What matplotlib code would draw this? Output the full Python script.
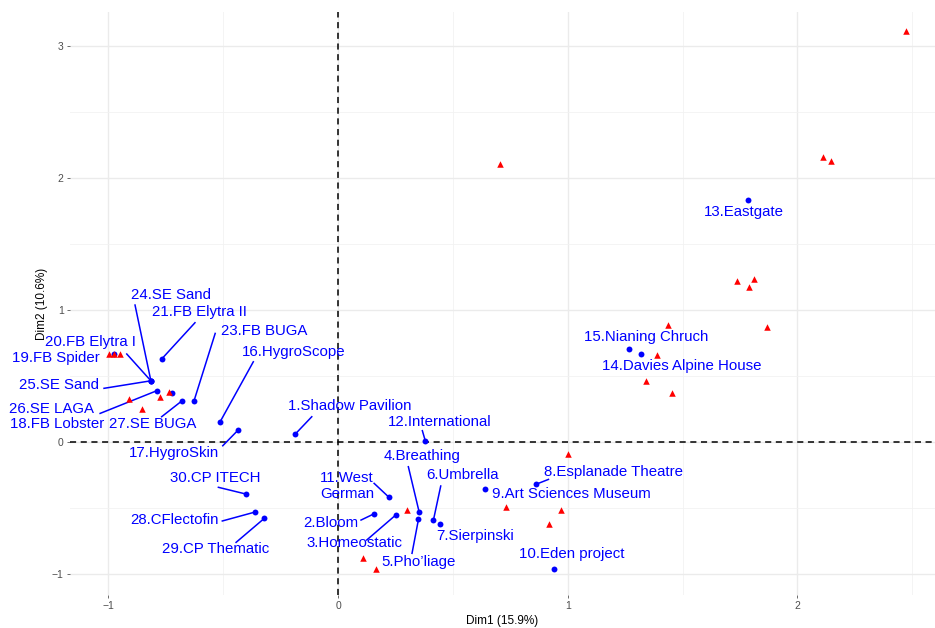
import numpy as np
import matplotlib
matplotlib.use("Agg")
import matplotlib.pyplot as plt

plt.rcParams['font.family'] = ['Liberation Sans', 'DejaVu Sans']

# individuals (blue points)
ids = [1, 2, 3, 4, 5, 6, 7, 8, 9, 10, 11, 12, 13, 14, 15, 16, 17, 18, 19, 20,
       21, 23, 24, 25, 26, 27, 28, 29, 30]
names = ["1.Shadow Pavilion", "2.Bloom", "3.Homeostatic", "4.Breathing", "5.Pho\u2019liage",
         "6.Umbrella", "7.Sierpinski", "8.Esplanade Theatre", "9.Art Sciences Museum",
         "10.Eden project", "11.West\nGerman", "12.International", "13.Eastgate",
         "14.Davies Alpine House", "15.Nianing Chruch", "16.HygroScope", "17.HygroSkin",
         "18.FB Lobster", "19.FB Spider", "20.FB Elytra I", "21.FB Elytra II", "23.FB BUGA",
         "24.SE Sand", "25.SE Sand", "26.SE LAGA", "27.SE BUGA", "28.CFlectofin",
         "29.CP Thematic", "30.CP ITECH"]
dim1 = [-0.186, 0.155, 0.251, 0.353, 0.350, 0.415, 0.443, 0.862, 0.641, 0.939, 0.222, 0.380,
        1.786, 1.318, 1.267, -0.514, -0.435, -0.723, -0.974, -0.815, -0.768, -0.627, -0.815,
        -0.815, -0.789, -0.679, -0.361, -0.321, -0.401]
dim2 = [0.061, -0.545, -0.553, -0.530, -0.586, -0.593, -0.621, -0.320, -0.358, -0.964, -0.419,
        0.008, 1.833, 0.669, 0.705, 0.152, 0.091, 0.373, 0.664, 0.464, 0.629, 0.313, 0.464,
        0.464, 0.389, 0.313, -0.530, -0.578, -0.394]

# red triangles
tri_dim1 = [-0.997, -0.974, -0.950, -0.911, -0.855, -0.775, -0.736, 0.299, 0.110, 0.165,
            1.001, 0.733, 0.971, 0.917, 1.736, 1.812, 1.789, 1.438, 1.866, 1.390, 1.340,
            1.454, 2.471, 2.113, 2.148, 0.707]
tri_dim2 = [0.664, 0.664, 0.664, 0.323, 0.248, 0.343, 0.377, -0.515, -0.881, -0.960,
            -0.093, -0.490, -0.517, -0.623, 1.220, 1.237, 1.177, 0.886, 0.873, 0.657, 0.462,
            0.369, 3.114, 2.161, 2.129, 2.104]

# label layout: id -> (label centre x, y, segment end or None)
layout = {
    1: (0.052, 0.273, (-0.1145, 0.1917)),
    2: (-0.030, -0.616, (0.100, -0.591)),
    3: (0.073, -0.767, (0.125, -0.742)),
    4: (0.364, -0.104, (0.306, -0.187)),
    5: (0.350, -0.911, (0.322, -0.843)),
    6: (0.543, -0.250, (0.447, -0.333)),
    7: (0.596, -0.710, None),
    8: (1.200, -0.225, (0.916, -0.283)),
    9: (1.016, -0.394, None),
    10: (1.019, -0.851, None),
    11: (0.039, -0.333, (0.157, -0.313)),
    12: (0.444, 0.149, (0.367, 0.086)),
    13: (1.768, 1.745, None),
    14: (1.495, 0.576, None),
    15: (1.340, 0.793, None),
    16: (-0.194, 0.682, (-0.369, 0.608)),
    17: (-0.713, -0.081, (-0.502, -0.028)),
    18: (-1.225, 0.134, None),
    19: (-1.228, 0.639, None),
    20: (-1.080, 0.755, (-0.920, 0.667)),
    21: (-0.604, 0.987, (-0.623, 0.904)),
    23: (-0.323, 0.841, (-0.535, 0.823)),
    24: (-0.726, 1.114, (-0.884, 1.038)),
    25: (-1.216, 0.432, (-1.019, 0.407)),
    26: (-1.248, 0.250, (-1.036, 0.217)),
    27: (-0.806, 0.134, (-0.768, 0.192)),
    28: (-0.711, -0.591, (-0.504, -0.598)),
    29: (-0.532, -0.813, (-0.444, -0.760)),
    30: (-0.534, -0.275, (-0.521, -0.343)),
}

fig = plt.figure(figsize=(9.35, 6.28), dpi=100)
ax = fig.add_axes([0.0749, 0.0525, 0.9251, 0.9284])

ax.set_xlim(-1.167, 2.599)
ax.set_ylim(-1.159, 3.258)
ax.set_xticks([-1, 0, 1, 2])
ax.set_yticks([-1, 0, 1, 2, 3])
ax.set_xticks(np.arange(-1, 3, 0.5), minor=True)
ax.set_yticks(np.arange(-1, 3.5, 0.5), minor=True)
ax.grid(True, which='major', color='#ebebeb', linewidth=1.0)
ax.grid(True, which='minor', color='#f2f2f2', linewidth=0.6)
ax.set_axisbelow(True)
for s in ax.spines.values():
    s.set_visible(False)
ax.tick_params(which='major', length=2.5, width=0.6, color='#555555',
               labelsize=7.5, labelcolor='#4d4d4d', pad=2)
ax.tick_params(which='minor', length=0)
ax.set_xlabel("Dim1 (15.9%)", fontsize=8.5, labelpad=3)
ax.set_ylabel("Dim2 (10.6%)", fontsize=8.5, labelpad=3)

ax.axhline(0, color='black', linestyle=(0, (4, 3)), linewidth=1.1, zorder=1)
ax.axvline(0, color='black', linestyle=(0, (4, 3)), linewidth=1.1, zorder=1)

ax.scatter(dim1, dim2, s=18, color='#0000ff', zorder=3, linewidths=0)
ax.scatter(tri_dim1, tri_dim2, s=22, marker='^', color='#ff0000', zorder=4, linewidths=0)

for i, name, x, y in zip(ids, names, dim1, dim2):
    lx, ly, seg = layout[i]
    ax.text(lx, ly, name, color='#0000ff', fontsize=10.8, ha='center', va='center',
            linespacing=1.25, clip_on=False, zorder=5)
    if seg is not None:
        ax.plot([x, seg[0]], [y, seg[1]], color='#0000ff', linewidth=1.1, zorder=3,
                clip_on=False)

fig.savefig("out.png", dpi=100)
